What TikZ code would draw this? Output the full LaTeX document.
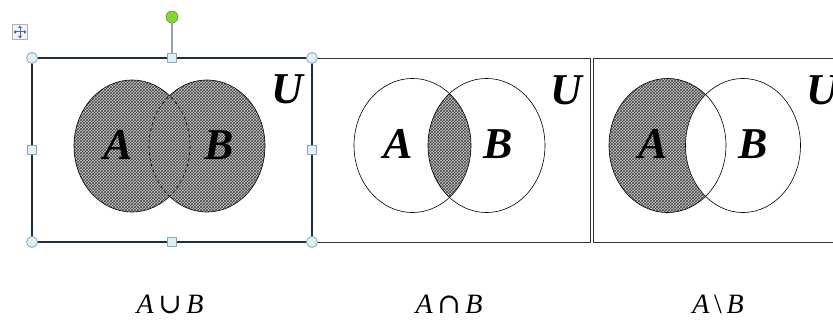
\documentclass[tikz,border=0pt]{standalone}
\usepackage{fontspec}
\setmainfont{Liberation Serif}
\newfontfamily\symfont{DejaVu Serif}
\usetikzlibrary{patterns}
\definecolor{frame}{HTML}{333333}
\definecolor{selbord}{HTML}{1E2F40}
\definecolor{handlefill}{HTML}{DDF0F4}
\definecolor{handledraw}{HTML}{8BA4B6}
\definecolor{greenh}{HTML}{86D43A}
\definecolor{greenhd}{HTML}{5F9A30}
\definecolor{iconblue}{HTML}{3D6FD0}
\tikzset{
  setbox/.style={draw=frame, line width=0.8pt},
  setline/.style={draw=black, line width=0.6pt},
  hatch/.style={fill=gray!38},
  hatchdots/.style={pattern=crosshatch, pattern color=black!75},
  biglet/.style={font=\fontsize{44}{44}\selectfont\bfseries\itshape, inner sep=0pt},
  oplabel/.style={font=\fontsize{28}{28}\selectfont\itshape, inner sep=0pt},
  cornerh/.style={circle, draw=handledraw, fill=handlefill, line width=0.8pt, minimum size=11pt, inner sep=0pt},
  sideh/.style={rectangle, draw=handledraw, fill=handlefill, line width=0.8pt, minimum size=9pt, inner sep=0pt},
}
\begin{document}
\begin{tikzpicture}[x=1pt,y=-1pt]
\useasboundingbox (0,0) rectangle (833,321);
\clip (0,0) rectangle (833,321);

% ---------- Box 3 : A \ B ----------
\draw[setbox] (593,58) rectangle (845,242);
\fill[hatch] (667.5,145.5) ellipse [x radius=58.5, y radius=67];
\fill[hatchdots] (667.5,145.5) ellipse [x radius=58.5, y radius=67];
\fill[white] (743,145.5) ellipse [x radius=57.5, y radius=67];
\draw[setline] (667.5,145.5) ellipse [x radius=58.5, y radius=67];
\draw[setline] (743,145.5) ellipse [x radius=57.5, y radius=67];
\node[biglet] (A3) at (653,144) {A};
\node[biglet] (B3) at (753,144) {B};
\node[biglet] (U3) at (822,90) {U};

% ---------- Box 2 : A cap B ----------
\draw[setbox] (312,58) rectangle (590,242);
\begin{scope}
  \clip (412.5,145.5) ellipse [x radius=58.5, y radius=67];
  \fill[hatch] (486.5,145.5) ellipse [x radius=58.5, y radius=67];
  \fill[hatchdots] (486.5,145.5) ellipse [x radius=58.5, y radius=67];
\end{scope}
\draw[setline] (412.5,145.5) ellipse [x radius=58.5, y radius=67];
\draw[setline] (486.5,145.5) ellipse [x radius=58.5, y radius=67];
\node[biglet] (A2) at (398,144) {A};
\node[biglet] (B2) at (498,144) {B};
\node[biglet] (U2) at (566,90) {U};

% ---------- Box 1 : A cup B ----------
\draw[setbox] (32,58) rectangle (312,242);
\fill[hatch] (132,146) ellipse [x radius=58, y radius=66] (207,146) ellipse [x radius=58, y radius=66];
\fill[hatchdots] (132,146) ellipse [x radius=58, y radius=66] (207,146) ellipse [x radius=58, y radius=66];
\begin{scope}[even odd rule]
  \clip (0,0) rectangle (833,321) (207,146) ellipse [x radius=58, y radius=66];
  \draw[setline] (132,146) ellipse [x radius=58, y radius=66];
\end{scope}
\begin{scope}[even odd rule]
  \clip (0,0) rectangle (833,321) (132,146) ellipse [x radius=58, y radius=66];
  \draw[setline] (207,146) ellipse [x radius=58, y radius=66];
\end{scope}
\begin{scope}
  \clip (207,146) ellipse [x radius=58, y radius=66];
  \draw[setline, dashed] (132,146) ellipse [x radius=58, y radius=66];
\end{scope}
\begin{scope}
  \clip (132,146) ellipse [x radius=58, y radius=66];
  \draw[setline, dashed] (207,146) ellipse [x radius=58, y radius=66];
\end{scope}
\node[biglet] (A1) at (118,145) {A};
\node[biglet] (B1) at (219,145) {B};
\node[biglet] (U1) at (287,89) {U};

% selection frame and handles
\draw[draw=selbord, line width=2.2pt] (32,58) rectangle (312,242);
\node[sideh] (hT) at (172,58) {};
\node[circle, fill=greenh, draw=greenhd, line width=0.6pt, minimum size=12pt, inner sep=0pt] (rot) at (172,17) {};
\draw[handledraw, line width=1.2pt] (rot) -- (hT);
\node[cornerh] (c1) at (32,58) {};
\node[cornerh] (c2) at (312,58) {};
\node[cornerh] (c3) at (32,242) {};
\node[cornerh] (c4) at (312,242) {};
\node[sideh] (hB) at (172,242) {};
\node[sideh] (hL) at (32,150) {};
\node[sideh] (hR) at (312,150) {};

% move icon
\node[rectangle, draw=gray!60, fill=gray!8, minimum size=15pt, inner sep=0pt] (mv) at (20,32) {};
\draw[iconblue, line width=1pt] (14.5,32) -- (25.5,32) (20,26.5) -- (20,37.5);
\fill[iconblue] (13.5,32) -- (16,30) -- (16,34) -- cycle
  (26.5,32) -- (24,30) -- (24,34) -- cycle
  (20,25.5) -- (18,28) -- (22,28) -- cycle
  (20,38.5) -- (18,36) -- (22,36) -- cycle;

% ---------- operation labels ----------
\node[oplabel] (L1) at (170,304) {A\,{\symfont\upshape ∪}\,B};
\node[oplabel] (L2) at (449,304) {A\,{\symfont\upshape ∩}\,B};
\node[oplabel] (L3) at (718,304) {A\,{\upshape\textbackslash}\,B};
\end{tikzpicture}
\end{document}
